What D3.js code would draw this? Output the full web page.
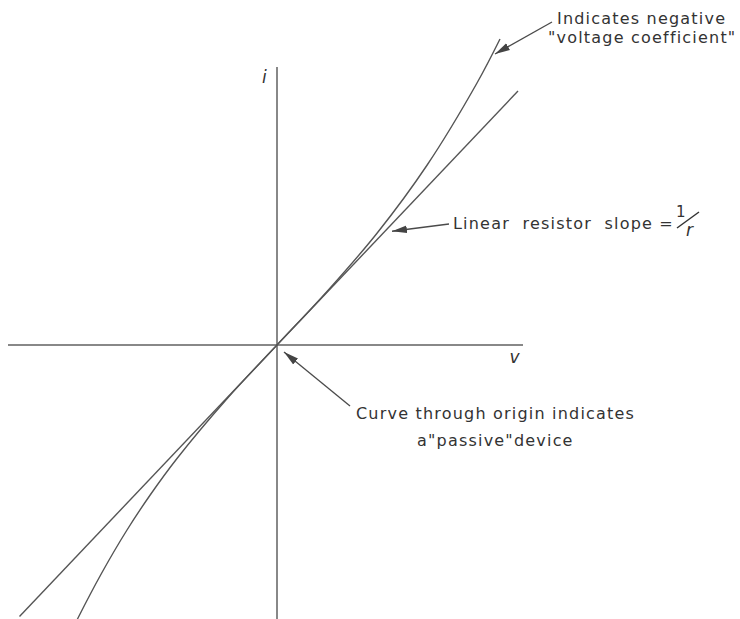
<!DOCTYPE html>
<html>
<head>
<meta charset="utf-8">
<script src="https://cdn.jsdelivr.net/npm/d3@7"></script>
<style>
  html, body { margin: 0; padding: 0; background: #ffffff; }
  svg { display: block; }
  .lbl { font-family: "DejaVu Sans", sans-serif; font-size: 16px; fill: #333; letter-spacing: 1.2px; }
  .ax { font-family: "DejaVu Sans", sans-serif; font-style: italic; font-size: 17px; fill: #333; }
</style>
</head>
<body>
<script>
// Linear resistor: straight line through the origin (slope 1/r)
const linearV = [-10.3, 9.64];
const linearI = [-10.86, 10.16];

// Device characteristic with negative voltage coefficient
const curveV = [-8.3, -7.96, -7.0, -6.0, -5.08, -4.0, -2.0, 0, 2.0, 4.0, 6.0, 8.0, 8.92];
const curveI = [-11.62, -10.92, -9.1, -7.4, -6.01, -4.54, -2.15, 0, 2.14, 4.47, 7.19, 10.48, 12.24];

// Axis extents and labels
const axisV = [-10.76, 9.84];
const axisI = [-11.2, 11.12];
const axisLabels = ["i", "v"];

const W = 740, H = 619;
const x = d3.scaleLinear().domain([-11.08, 18.52]).range([0, W]);
const y = d3.scaleLinear().domain([13.8, -10.96]).range([0, H]);

const svg = d3.select("body").append("svg")
  .attr("width", W).attr("height", H);

const defs = svg.append("defs");
defs.append("marker")
  .attr("id", "head")
  .attr("markerUnits", "userSpaceOnUse")
  .attr("viewBox", "0 -5 16 10")
  .attr("refX", 15).attr("refY", 0)
  .attr("markerWidth", 16).attr("markerHeight", 10)
  .attr("orient", "auto")
  .append("path")
  .attr("d", "M0,-3.8 L15,0 L0,3.8 Z")
  .attr("fill", "#444");

const lineColor = "#555";

// axes
svg.append("line")
  .attr("x1", x(axisV[0])).attr("x2", x(axisV[1]))
  .attr("y1", y(0)).attr("y2", y(0))
  .attr("stroke", "#606060").attr("stroke-width", 1.5);
svg.append("line")
  .attr("x1", x(0)).attr("x2", x(0))
  .attr("y1", y(axisI[1])).attr("y2", y(axisI[0]))
  .attr("stroke", "#606060").attr("stroke-width", 1.5);

svg.append("text").attr("class", "ax")
  .attr("x", x(-0.6)).attr("y", y(10.5)).text(axisLabels[0]);
svg.append("text").attr("class", "ax")
  .attr("x", x(9.3)).attr("y", y(-0.72)).text(axisLabels[1]);

// linear resistor line
const lin = d3.line().x(d => x(d[0])).y(d => y(d[1]));
svg.append("path")
  .attr("d", lin(d3.zip(linearV, linearI)))
  .attr("fill", "none").attr("stroke", lineColor).attr("stroke-width", 1.4);

// device curve
const crv = d3.line().x(d => x(d[0])).y(d => y(d[1])).curve(d3.curveCatmullRom.alpha(0.5));
svg.append("path")
  .attr("d", crv(d3.zip(curveV, curveI)))
  .attr("fill", "none").attr("stroke", lineColor).attr("stroke-width", 1.4);

// annotation arrows: start in pixels, tip in (v, i)
const arrows = [
  { from: [552, 22], tip: [8.72, 11.64] },
  { from: [449, 224], tip: [4.6, 4.55] },
  { from: [350, 406], tip: [0.28, -0.28] }
];
arrows.forEach(a => {
  svg.append("line")
    .attr("x1", a.from[0]).attr("y1", a.from[1])
    .attr("x2", x(a.tip[0])).attr("y2", y(a.tip[1]))
    .attr("stroke", "#4a4a4a").attr("stroke-width", 1.3)
    .attr("marker-end", "url(#head)");
});

// annotation text
const t = (px, py, s) => svg.append("text").attr("class", "lbl").attr("x", px).attr("y", py).text(s);
t(557, 24, "Indicates negative");
t(548, 43, "\"voltage coefficient\"");
t(453, 229, "Linear  resistor  slope =").attr("xml:space", "preserve").style("white-space", "pre");
// fraction 1/r
t(676, 217, "1").style("font-size", "15px").style("letter-spacing", "0px");
svg.append("line")
  .attr("x1", 677).attr("y1", 228).attr("x2", 699).attr("y2", 212)
  .attr("stroke", "#333").attr("stroke-width", 1.4);
svg.append("text").attr("class", "ax").style("font-size", "17px")
  .attr("x", 686).attr("y", 236).text("r");
t(356, 419, "Curve through origin indicates");
t(417, 446, "a\"passive\"device");
</script>
</body>
</html>
